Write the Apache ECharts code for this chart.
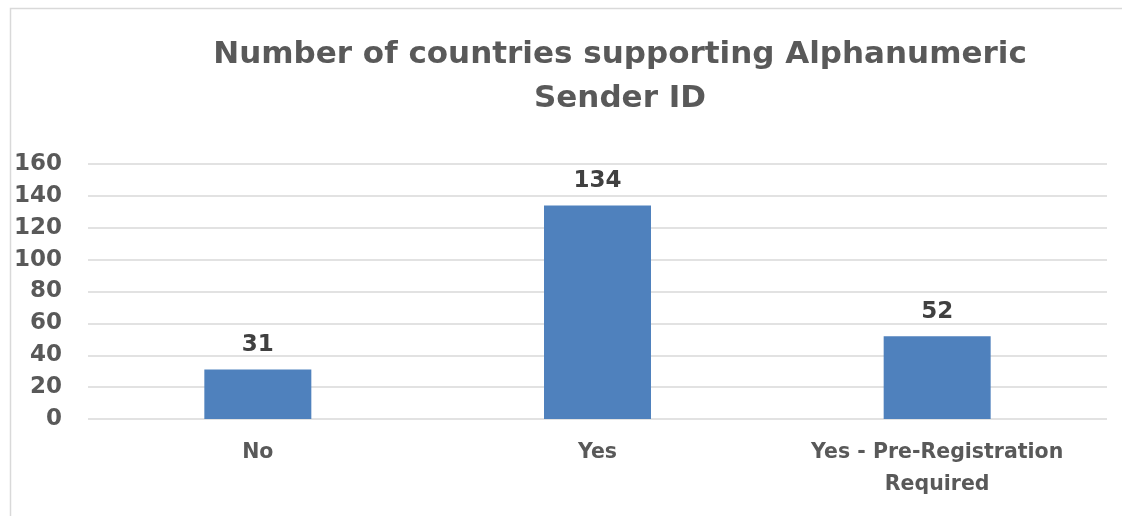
<!DOCTYPE html>
<html>
<head>
<meta charset="utf-8">
<script src="https://cdn.jsdelivr.net/npm/echarts@6/dist/echarts.min.js"></script>
<style>
  html, body { margin: 0; padding: 0; background: #ffffff; }
  #chart { width: 1122px; height: 516px; }
</style>
</head>
<body>
<div id="chart"></div>
<script>
// Alphanumeric Sender ID support, by country count
const categories = ['No', 'Yes', 'Yes - Pre-Registration\nRequired'];
const countryCounts = [31, 134, 52];
const yTicks = { min: 0, max: 160, interval: 20 };
const titleText = 'Number of countries supporting Alphanumeric\nSender ID';

const chart = echarts.init(document.getElementById('chart'), null, { renderer: 'canvas' });
const font = '"DejaVu Sans", Verdana, sans-serif';

chart.setOption({
  animation: false,
  backgroundColor: '#ffffff',
  graphic: [{
    type: 'polyline',
    shape: { points: [[10.5, 530], [10.5, 8.5], [1130, 8.5]] },
    style: { stroke: '#d9d9d9', lineWidth: 1.5, fill: null },
    silent: true
  }],
  title: {
    text: titleText,
    left: 615,
    top: 28,
    textAlign: 'center',
    textStyle: {
      fontFamily: font,
      fontSize: 31,
      fontWeight: 'bold',
      color: '#595959',
      lineHeight: 44
    }
  },
  grid: { left: 88, right: 15, top: 164, bottom: 97, containLabel: false },
  xAxis: {
    type: 'category',
    data: categories,
    axisLine: { show: false },
    axisTick: { show: false },
    axisLabel: {
      interval: 0,
      margin: 18,
      fontFamily: font,
      fontSize: 20.5,
      fontWeight: 'bold',
      color: '#595959',
      lineHeight: 32
    }
  },
  yAxis: {
    type: 'value',
    min: yTicks.min,
    max: yTicks.max,
    interval: yTicks.interval,
    axisLine: { show: false },
    axisTick: { show: false },
    splitLine: { lineStyle: { color: '#d9d9d9', width: 1.5 } },
    axisLabel: {
      margin: 26,
      fontFamily: font,
      fontSize: 23,
      fontWeight: 'bold',
      color: '#595959'
    }
  },
  series: [{
    type: 'bar',
    data: countryCounts,
    barWidth: '31.5%',
    itemStyle: { color: '#4f81bd' },
    label: {
      show: true,
      position: 'top',
      distance: 13,
      fontFamily: font,
      fontSize: 23,
      fontWeight: 'bold',
      color: '#404040'
    }
  }]
});
</script>
</body>
</html>
